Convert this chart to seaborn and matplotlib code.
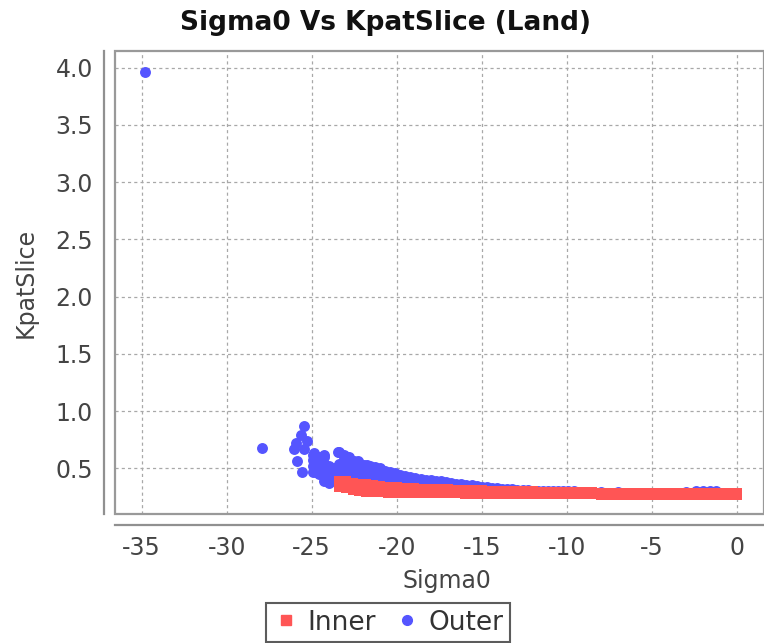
import matplotlib
matplotlib.use("Agg")
import matplotlib.pyplot as plt
from matplotlib.lines import Line2D
from matplotlib.patches import Rectangle
import seaborn as sns

# Inner series: columns of squares (x, upper y, lower y)
inner_x = [-23.4, -23.0, -22.6, -22.2, -21.8, -21.4, -21.0, -20.5, -20.0, -19.5,
           -19.0, -18.5, -18.0, -17.5, -17.0, -16.5, -16.0, -15.5, -15.0, -14.5,
           -14.0, -13.5, -13.0, -12.5, -12.0, -11.5, -11.0, -10.5, -10.0, -9.5,
           -9.0, -8.5, -8.0, -7.5, -7.0, -6.5, -6.0, -5.5, -5.0, -4.5,
           -4.0, -3.5, -3.0, -2.5, -2.0, -1.5, -1.0, -0.5, 0.0]
inner_hi = [0.390, 0.385, 0.375, 0.365, 0.360, 0.355, 0.345, 0.338, 0.335, 0.330,
            0.325, 0.322, 0.320, 0.318, 0.315, 0.312, 0.310, 0.310, 0.308, 0.305,
            0.302, 0.300, 0.300, 0.298, 0.297, 0.296, 0.295, 0.294, 0.293, 0.290,
            0.290, 0.290, 0.288, 0.288, 0.288, 0.287, 0.287, 0.286, 0.286, 0.285,
            0.285, 0.285, 0.284, 0.284, 0.283, 0.283, 0.282, 0.282, 0.280]
inner_lo = [0.340, 0.325, 0.310, 0.300, 0.295, 0.290, 0.290, 0.288, 0.287, 0.285,
            0.284, 0.283, 0.282, 0.281, 0.280, 0.280, 0.279, 0.278, 0.278, 0.277,
            0.276, 0.276, 0.275, 0.275, 0.274, 0.274, 0.273, 0.273, 0.272, 0.272,
            0.271, 0.271, 0.270, 0.270, 0.270, 0.269, 0.269, 0.268, 0.268, 0.268,
            0.267, 0.267, 0.267, 0.266, 0.266, 0.266, 0.265, 0.265, 0.265]

# Outer series: isolated points
outer_x = [-34.8, -27.93, -25.43, -25.63, -25.27, -25.92, -26.02, -25.43, -25.86,
           -25.57, -24.88, -24.75, -24.26, -23.48, -22.9, -22.3, -21.72]
outer_y = [3.96, 0.68, 0.87, 0.79, 0.74, 0.72, 0.666, 0.666, 0.56,
           0.47, 0.63, 0.47, 0.616, 0.645, 0.60, 0.56, 0.53]

# Outer series: dense body near -25..-20 (x, list of y)
body_x = [-24.9, -24.6, -24.3, -24.0, -23.7, -23.4, -23.1, -22.8, -22.5,
          -22.2, -21.9, -21.6, -21.3, -21.0, -20.7, -20.4, -20.1]
body_y = [[0.47, 0.52, 0.57, 0.62],
          [0.45, 0.50, 0.55, 0.60],
          [0.39, 0.44, 0.49, 0.54, 0.60],
          [0.37, 0.42, 0.47, 0.52],
          [0.40, 0.45, 0.50],
          [0.44, 0.49, 0.54, 0.64],
          [0.43, 0.48, 0.53, 0.58, 0.62],
          [0.42, 0.47, 0.52, 0.57, 0.60],
          [0.41, 0.46, 0.51, 0.56],
          [0.40, 0.45, 0.50, 0.55],
          [0.39, 0.44, 0.49, 0.53],
          [0.38, 0.43, 0.48, 0.52],
          [0.38, 0.42, 0.47, 0.51],
          [0.37, 0.41, 0.46, 0.50],
          [0.37, 0.41, 0.45, 0.48],
          [0.36, 0.40, 0.44, 0.47],
          [0.36, 0.40, 0.43, 0.46]]

# Outer series: tail running toward 0
tail_x = [-19.8, -19.5, -19.2, -18.9, -18.6, -18.3, -18.0, -17.7, -17.4, -17.1,
          -16.8, -16.5, -16.2, -15.9, -15.6, -15.3, -15.0, -14.7, -14.4, -14.1,
          -13.8, -13.5, -13.2, -12.9, -12.6, -12.3, -12.0, -11.7, -11.4, -11.1,
          -10.8, -10.5, -10.2, -9.9, -9.6, -9.0, -8.0, -7.0, -6.0, -5.0,
          -4.0, -3.0, -2.4, -2.0, -1.6, -1.2]
tail_top = [0.440, 0.430, 0.420, 0.415, 0.410, 0.400, 0.395, 0.390, 0.385, 0.380,
            0.370, 0.365, 0.360, 0.355, 0.350, 0.345, 0.340, 0.335, 0.330, 0.325,
            0.320, 0.318, 0.315, 0.312, 0.310, 0.308, 0.305, 0.303, 0.302, 0.300,
            0.300, 0.298, 0.297, 0.297, 0.300, 0.290, 0.290, 0.290, 0.288, 0.288,
            0.288, 0.289, 0.300, 0.300, 0.300, 0.298]
tail_low = [0.390, 0.385, 0.380, 0.375, 0.370, 0.365, 0.360, 0.355, 0.350, 0.345,
            0.340, 0.335, 0.330, 0.330, 0.325, 0.320, 0.315]

x_ticks = [-35, -30, -25, -20, -15, -10, -5, 0]
y_ticks = [0.5, 1.0, 1.5, 2.0, 2.5, 3.0, 3.5, 4.0]

red = "#FF5555"
blue = "#5555FF"

sns.set_style("white")
plt.rcParams["font.family"] = ["DejaVu Sans"]
plt.rcParams["axes.unicode_minus"] = False

fig = plt.figure(figsize=(7.64, 6.43), dpi=100)
ax = fig.add_axes([0.1505, 0.2002, 0.8495, 0.7210])

bx = [x for x, ys in zip(body_x, body_y) for _ in ys]
by = [y for ys in body_y for y in ys]
all_outer_x = outer_x + bx + tail_x + tail_x[:len(tail_low)]
all_outer_y = outer_y + by + tail_top + tail_low

sns.scatterplot(x=all_outer_x, y=all_outer_y, ax=ax, color=blue, marker="o",
                s=62, linewidth=0, zorder=3)
sns.scatterplot(x=inner_x + inner_x, y=inner_hi + inner_lo, ax=ax, color=red,
                marker="s", s=50, linewidth=0, zorder=4)

ax.set_xlim(-36.57, 1.6)
ax.set_ylim(0.098, 4.149)
ax.set_xticks(x_ticks)
ax.set_xticklabels([str(t) for t in x_ticks])
ax.set_yticks(y_ticks)
ax.set_yticklabels([f"{t:.1f}" for t in y_ticks])

ax.grid(True, color="#a8a8a8", linestyle=(0, (2.5, 2.5)), linewidth=0.9)
ax.set_axisbelow(True)

for side in ["left", "bottom"]:
    ax.spines[side].set_position(("outward", 8))
    ax.spines[side].set_color("#909090")
    ax.spines[side].set_linewidth(1.6)
ax.spines["top"].set_visible(False)
ax.spines["right"].set_visible(False)
ax.add_patch(Rectangle((0, 0), 1, 1, transform=ax.transAxes, fill=False,
                       edgecolor="#999999", linewidth=1.6, clip_on=False, zorder=5))

ax.tick_params(axis="both", direction="out", length=4, width=1, color="#909090",
               labelsize=17, labelcolor="#444444", pad=4)

ax.set_xlabel("Sigma0", fontsize=17, color="#444444")
ax.set_ylabel("KpatSlice", fontsize=17, color="#444444")
ax.xaxis.set_label_coords(0.511, -0.118)
ax.yaxis.set_label_coords(-0.119, 0.5)
fig.suptitle("Sigma0 Vs KpatSlice (Land)", x=0.505, y=0.985, va="top",
             fontsize=19, fontweight="bold", color="#111111")

handles = [Line2D([], [], marker="s", color=red, linestyle="none", markersize=7),
           Line2D([], [], marker="o", color=blue, linestyle="none", markersize=7)]
leg = fig.legend(handles, ["Inner", "Outer"], loc="upper center",
                 bbox_to_anchor=(0.508, 0.062), ncol=2, fontsize=19,
                 frameon=True, fancybox=False, handletextpad=0.3,
                 columnspacing=0.7, handlelength=1.0, borderpad=0.25,
                 borderaxespad=0)
leg.get_frame().set_edgecolor("#333333")
leg.get_frame().set_linewidth(1.5)
for t in leg.get_texts():
    t.set_color("#333333")

fig.savefig("out.png", dpi=100)
